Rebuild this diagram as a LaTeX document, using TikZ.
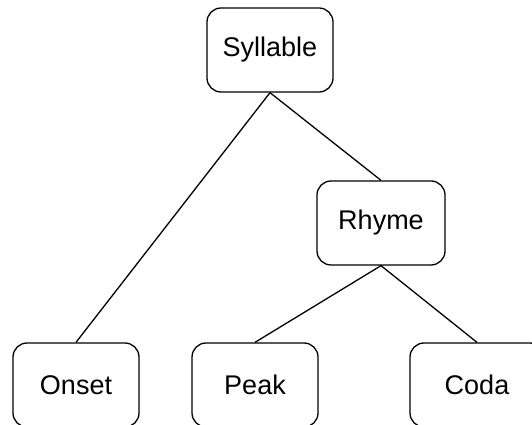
\documentclass[tikz,border=0pt]{standalone}
\usepackage{fontspec}
\setmainfont{Liberation Sans}
\begin{document}
\begin{tikzpicture}[x=1pt,y=1pt,
  box/.style={draw,line width=1.3pt,rounded corners=14pt,minimum width=126pt,minimum height=84pt,inner sep=0pt,font=\fontsize{27}{31}\selectfont},
  edge/.style={line width=1.3pt}]
\useasboundingbox (0,0) rectangle (532,425);
\clip (0,0) rectangle (532,425);
\node[box] (syl) at (270,375) {Syllable};
\node[box,minimum width=128pt] (rhy) at (381,202) {Rhyme};
\node[box] (ons) at (76,40) {Onset};
\node[box] (pea) at (255,40) {Peak};
\node[box,minimum width=134pt] (cod) at (477,40) {Coda};
\draw[edge] (syl.south) -- (ons.north);
\draw[edge] (syl.south) -- (rhy.north);
\draw[edge] (rhy.south) -- (pea.north);
\draw[edge] (rhy.south) -- (cod.north);
\end{tikzpicture}
\end{document}
